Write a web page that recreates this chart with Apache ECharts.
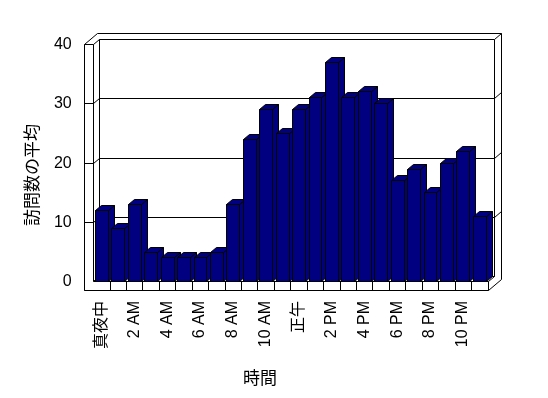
<!DOCTYPE html>
<html><head><meta charset="utf-8">
<script src="https://cdn.jsdelivr.net/npm/echarts@6/dist/echarts.min.js"></script>
<style>html,body{margin:0;padding:0;background:#fff}#c{width:548px;height:398px}</style>
</head><body><div id="c"></div>
<script>
// ---- data ----
const hours = ['真夜中','1 AM','2 AM','3 AM','4 AM','5 AM','6 AM','7 AM','8 AM','9 AM','10 AM','11 AM',
               '正午','1 PM','2 PM','3 PM','4 PM','5 PM','6 PM','7 PM','8 PM','9 PM','10 PM','11 PM'];
const visits = [12, 9, 13, 5, 4, 4, 4, 5, 13, 24, 29, 25, 29, 31, 37, 31, 32, 30, 17, 19, 15, 20, 22, 11];
const yTicks = [0, 10, 20, 30, 40];
const yTitle = '訪問数の平均';
const xTitle = '時間';

// ---- style constants ----
const yMax = yTicks[yTicks.length - 1];
const LABEL_STEP = 2;
const DX = 6, DY = -5, TX = 7, TY = -6, WALL = 9, FLOOR = 9;
const barColor = '#000080';
const FONT = '"Liberation Sans", "Noto Sans CJK JP", sans-serif';
function s(v) { return Math.round(v - 0.5) + 0.5; }
function poly(pts, fill) { return { type: 'polygon', shape: { points: pts }, style: { fill: fill || '#fff', stroke: '#000', lineWidth: 1 } }; }
function line(pts) { return { type: 'polyline', shape: { points: pts }, style: { fill: null, stroke: '#000', lineWidth: 1 } }; }

function frameItem(params, api) {
  const bw = api.size([1, 0])[0];
  const N = hours.length;
  const X0 = s(api.coord([0, 0])[0] - bw / 2);
  const X1 = s(api.coord([N - 1, 0])[0] + bw / 2);
  const Y0 = s(api.coord([0, 0])[1]);
  const YT = s(api.coord([0, yMax])[1]);
  const ch = [];
  ch.push(poly([[X0 - WALL, YT], [X0 - WALL + DX + TX, YT + DY + TY], [X1 + DX + TX, YT + DY + TY],
                [X1 + DX + TX, Y0 + FLOOR + DY + TY], [X1, Y0 + FLOOR], [X0 - WALL, Y0 + FLOOR]]));
  ch.push(poly([[X0 + DX, YT + DY], [X1 + DX, YT + DY], [X1 + DX, Y0 + DY], [X0 + DX, Y0 + DY]]));
  ch.push(poly([[X0, YT], [X0 + DX, YT + DY], [X0 + DX, Y0 + DY], [X0, Y0]]));
  ch.push(poly([[X0, Y0], [X1, Y0], [X1 + DX, Y0 + DY], [X0 + DX, Y0 + DY]]));
  ch.push(poly([[X0 - WALL, YT], [X0, YT], [X0, Y0], [X1, Y0], [X1, Y0 + FLOOR], [X0 - WALL, Y0 + FLOOR]]));
  ch.push(line([[X1 + DX, YT + DY], [X1 + DX + TX, YT + DY + TY]]));
  yTicks.forEach(function (v) {
    if (v <= 0 || v >= yMax) return;
    const y = s(api.coord([0, v])[1]);
    ch.push(line([[X0 - WALL, y], [X0, y], [X0 + DX, y + DY], [X1 + DX, y + DY], [X1 + DX + TX, y + DY + TY]]));
  });
  for (let k = 1; k < N; k++) {
    const x = s(api.coord([k, 0])[0] - bw / 2);
    ch.push(line([[x, Y0], [x, Y0 + FLOOR]]));
  }
  return { type: 'group', children: ch };
}

function labelItem(params, api) {
  const k = api.value(0);
  const p = api.coord([k, 0]);
  return { type: 'text', x: Math.round(p[0]) - 0.5, y: Math.round(p[1]) + 19, rotation: Math.PI / 2,
    style: { text: hours[k], fontSize: 16, fontFamily: FONT, fill: '#000', align: 'right', verticalAlign: 'middle' } };
}

function barItem(params, api) {
  const i = api.value(0), v = api.value(1);
  const bw = api.size([1, 0])[0];
  const c = api.coord([i, v]);
  const b = api.coord([i, 0]);
  const hw = bw * 0.395;
  const xl = s(c[0] - hw), xr = s(c[0] + hw), yt = s(c[1]), yb = s(b[1]);
  return { type: 'group', children: [
    poly([[xr, yt], [xr + DX, yt + DY], [xr + DX, yb + DY], [xr, yb]], barColor),
    poly([[xl, yt], [xr, yt], [xr + DX, yt + DY], [xl + DX, yt + DY]], barColor),
    poly([[xl, yt], [xr, yt], [xr, yb], [xl, yb]], barColor)
  ] };
}

const labelIdx = hours.map(function (h, i) { return [i, 0]; }).filter(function (d) { return d[0] % LABEL_STEP === 0; });

const chart = echarts.init(document.getElementById('c'), null, { renderer: 'canvas' });
chart.setOption({
  animation: false,
  backgroundColor: '#fff',
  grid: { left: 93.7, top: 44.5, width: 394.3, height: 237.2, containLabel: false },
  xAxis: {
    type: 'category', data: hours, boundaryGap: true,
    axisLine: { show: false }, axisTick: { show: false }, splitLine: { show: false },
    axisLabel: { show: false }
  },
  yAxis: {
    type: 'value', min: 0, max: yMax, interval: 10,
    axisLine: { show: false }, axisTick: { show: false }, splitLine: { show: false },
    axisLabel: { margin: 22, fontSize: 16, color: '#000', fontFamily: FONT }
  },
  graphic: [
    { type: 'text', x: 32, y: 175, rotation: Math.PI / 2,
      style: { text: yTitle, fontSize: 17, fontFamily: '"Noto Sans CJK JP", sans-serif', fill: '#000', align: 'center', verticalAlign: 'middle' } },
    { type: 'text', x: 260, y: 378,
      style: { text: xTitle, fontSize: 17, fontFamily: '"Noto Sans CJK JP", sans-serif', fill: '#000', align: 'center', verticalAlign: 'middle' } }
  ],
  series: [
    { type: 'custom', name: 'frame', silent: true, z: 1, renderItem: frameItem, data: [[0, 0]], encode: { x: 0, y: 1 } },
    { type: 'custom', name: 'labels', silent: true, z: 3, renderItem: labelItem, data: labelIdx, encode: { x: 0, y: 1 } },
    { type: 'custom', name: '訪問数の平均', z: 2, renderItem: barItem,
      data: visits.map(function (v, i) { return [i, v]; }), encode: { x: 0, y: 1 } }
  ]
});
</script>
</body></html>
